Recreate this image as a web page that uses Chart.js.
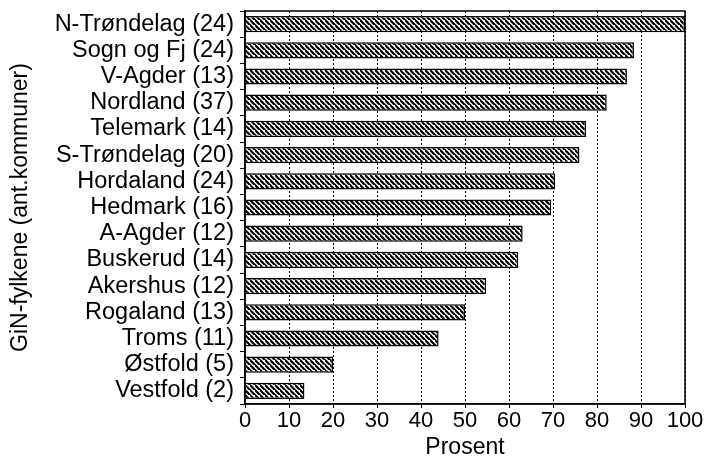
<!DOCTYPE html>
<html lang="no">
<head>
  <meta charset="UTF-8">
  <title>GiN-fylkene</title>
  <style>
    html, body { margin: 0; padding: 0; background: #fff; }
    .wrap { width: 708px; height: 462px; position: relative; }
  </style>
</head>
<body>
  <div class="wrap">
    <canvas id="chart"></canvas>
  </div>

  <script src="https://cdn.jsdelivr.net/npm/chart.js"></script>
  <script>
    // data
    const fylker = ['N-Trøndelag (24)', 'Sogn og Fj (24)', 'V-Agder (13)', 'Nordland (37)',
      'Telemark (14)', 'S-Trøndelag (20)', 'Hordaland (24)', 'Hedmark (16)', 'A-Agder (12)',
      'Buskerud (14)', 'Akershus (12)', 'Rogaland (13)', 'Troms (11)', 'Østfold (5)', 'Vestfold (2)'];
    const prosent = [100, 88.4, 86.8, 82.2, 77.5, 76.0, 70.5, 69.6, 63.1, 62.1, 54.8, 50.0, 44.0, 20.0, 13.5];
    const xTicks = [0, 10, 20, 30, 40, 50, 60, 70, 80, 90, 100];

    const fontFam = '"Liberation Sans", Arial, Helvetica, sans-serif';

    // diagonal hatch fill
    function lagSkravur() {
      const s = 5;
      const c = document.createElement('canvas');
      c.width = s; c.height = s;
      const g = c.getContext('2d');
      g.fillStyle = '#fff';
      g.fillRect(0, 0, s, s);
      g.strokeStyle = '#000';
      g.lineWidth = 2.2;
      g.beginPath();
      g.moveTo(-1, -1); g.lineTo(s + 1, s + 1);
      g.moveTo(-s - 1, -1); g.lineTo(1, s + 1);
      g.moveTo(s - 1, -s - 1); g.lineTo(2 * s + 1, s + 1);
      g.stroke();
      return g.createPattern(c, 'repeat');
    }

    // box round the plot area
    const rammePlugin = {
      id: 'ramme',
      afterDraw(chart) {
        const a = chart.chartArea;
        const ctx = chart.ctx;
        ctx.save();
        ctx.setLineDash([]);
        ctx.strokeStyle = '#000';
        ctx.lineWidth = 1.5;
        ctx.strokeRect(a.left, a.top, a.right - a.left, a.bottom - a.top);
        ctx.restore();
      }
    };

    const ctx = document.getElementById('chart').getContext('2d');
    new Chart(ctx, {
      type: 'bar',
      data: {
        labels: fylker,
        datasets: [{
          data: prosent,
          backgroundColor: lagSkravur(),
          borderColor: '#000',
          borderWidth: 1.5,
          barPercentage: 0.62,
          categoryPercentage: 1
        }]
      },
      options: {
        indexAxis: 'y',
        responsive: true,
        maintainAspectRatio: false,
        animation: false,
        layout: { padding: { top: 11, right: 23, left: 0, bottom: 0 } },
        plugins: { legend: { display: false }, tooltip: { enabled: false } },
        scales: {
          x: {
            min: 0, max: 100,
            afterBuildTicks: s => { s.ticks = xTicks.map(v => ({ value: v })); },
            afterFit: s => { s.height = 58; },
            border: { display: true, color: '#000', width: 1.5, dash: [2, 2] },
            grid: {
              color: '#000',
              lineWidth: 1,
              tickLength: 4,
              tickColor: '#000',
              tickBorderDash: [],
              tickWidth: 1
            },
            ticks: { color: '#000', padding: 0, font: { family: fontFam, size: 22 } },
            title: {
              display: true, text: 'Prosent', color: '#000',
              padding: { top: 0, bottom: 1 },
              font: { family: fontFam, size: 23 }
            }
          },
          y: {
            afterFit: s => { s.width = 245; s.paddingTop = 0; s.paddingBottom = 0; },
            border: { display: true, color: '#000', width: 1.5 },
            grid: {
              offset: true,
              drawOnChartArea: false,
              color: '#000',
              tickLength: 5,
              lineWidth: 1
            },
            ticks: { color: '#000', padding: 6, autoSkip: false, font: { family: fontFam, size: 23.5 } },
            title: {
              display: true, text: 'GiN-fylkene (ant.kommuner)', color: '#000',
              padding: { top: 7, bottom: 0 },
              font: { family: fontFam, size: 23 }
            }
          }
        }
      },
      plugins: [rammePlugin]
    });
  </script>
</body>
</html>
